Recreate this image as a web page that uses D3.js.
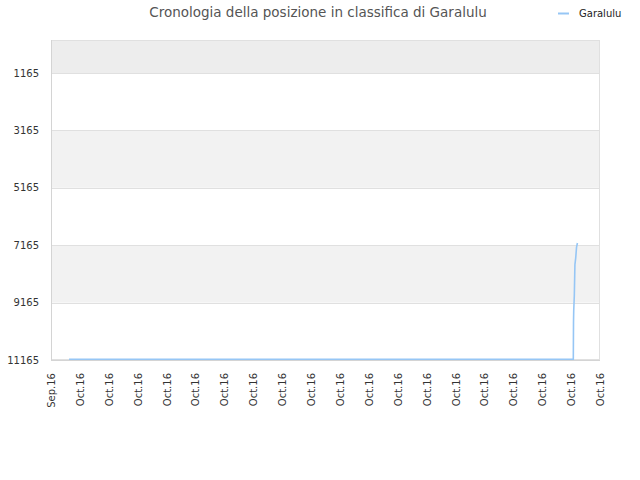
<!DOCTYPE html>
<html>
<head>
<meta charset="utf-8">
<script src="https://cdn.jsdelivr.net/npm/d3@7"></script>
<style>
  body { margin: 0; background: #fff; }
  svg { font-family: "DejaVu Sans", sans-serif; }
</style>
</head>
<body>
<svg id="chart" width="640" height="480"></svg>
<script>
// ranking history of the player (times)
var dates = ["2016-09-30 15:00", "2016-10-18 01:50", "2016-10-18 02:00", "2016-10-18 02:10",
	"2016-10-18 02:40", "2016-10-18 02:50", "2016-10-18 03:00", "2016-10-18 03:10",
	"2016-10-18 03:50", "2016-10-18 04:30", "2016-10-18 05:15"];
var ranks = [11140, 11140, 9830, 9460, 8920, 8560, 8200, 7840, 7610, 7240, 7090];
var yTicks = [1165, 3165, 5165, 7165, 9165, 11165];
var seriesName = "Garalulu";
var title = "Cronologia della posizione in classifica di Garalulu";

var parse = d3.timeParse("%Y-%m-%d %H:%M");
var data = dates.map(function(d, i) { return { date: parse(d), rank: ranks[i] }; });

var svg = d3.select("#chart");
var plotLeft = 51, plotRight = 600, plotTop = 40, plotBottom = 360;

var x = d3.scaleTime()
	.domain([new Date(2016, 8, 30), new Date(2016, 9, 19)])
	.range([plotLeft, plotRight]);
var y = d3.scaleLinear()
	.domain([17, 11165])
	.range([plotTop, plotBottom]);

// alternating background bands
var edges = [17].concat(yTicks);
for (var i = 0; i < edges.length - 1; i++) {
	if (i % 2 == 1) continue;
	svg.append("rect")
		.attr("x", plotLeft)
		.attr("y", y(edges[i]))
		.attr("width", plotRight - plotLeft)
		.attr("height", y(edges[i + 1]) - y(edges[i]))
		.style("fill", i == 0 ? "#ededed" : "#f2f2f2");
}

// horizontal grid lines
svg.selectAll(".grid")
	.data(yTicks)
	.enter().append("line")
	.attr("x1", plotLeft).attr("x2", plotRight)
	.attr("y1", function(d) { return Math.round(y(d)) + 0.5; })
	.attr("y2", function(d) { return Math.round(y(d)) + 0.5; })
	.style("stroke", "#e0e0e0");

// frame
svg.append("rect")
	.attr("x", plotLeft + 0.5).attr("y", plotTop + 0.5)
	.attr("width", plotRight - plotLeft - 1).attr("height", plotBottom - plotTop - 1)
	.style("fill", "none").style("stroke", "#e0e0e0");
svg.append("line")
	.attr("x1", plotLeft + 0.5).attr("x2", plotLeft + 0.5)
	.attr("y1", plotTop).attr("y2", plotBottom)
	.style("stroke", "#d4d4d4");
svg.append("line")
	.attr("x1", plotLeft).attr("x2", plotRight)
	.attr("y1", plotBottom + 0.5).attr("y2", plotBottom + 0.5)
	.style("stroke", "#d4d4d4");

// y axis labels
var yAxis = d3.axisLeft(y).tickValues(yTicks).tickSize(0).tickPadding(12).tickFormat(d3.format("d"));
svg.append("g")
	.attr("transform", "translate(" + plotLeft + ",0)")
	.call(yAxis)
	.call(function(g) { g.select(".domain").remove(); })
	.selectAll("text")
	.style("font-size", "10px")
	.style("fill", "#333")
	.style("font-family", "DejaVu Sans, sans-serif");

// x axis labels, one per day
var fmt = d3.timeFormat("%b.%y");
var xAxis = d3.axisBottom(x).ticks(d3.timeDay.every(1)).tickSize(0).tickFormat(fmt);
svg.append("g")
	.attr("transform", "translate(0," + plotBottom + ")")
	.call(xAxis)
	.call(function(g) { g.select(".domain").remove(); })
	.selectAll("text")
	.attr("transform", "rotate(-90)")
	.attr("x", -13)
	.attr("y", 0)
	.attr("dy", "0.35em")
	.style("text-anchor", "end")
	.style("font-size", "10px")
	.style("fill", "#333")
	.style("font-family", "DejaVu Sans, sans-serif");

// the ranking line
var line = d3.line()
	.x(function(d) { return x(d.date); })
	.y(function(d) { return y(d.rank); });
svg.append("path")
	.datum(data)
	.attr("d", line)
	.style("fill", "none")
	.style("stroke", "#96c6f5")
	.style("stroke-width", 1.6);

// title
svg.append("text")
	.attr("x", 318).attr("y", 17)
	.attr("text-anchor", "middle")
	.style("font-size", "13.5px")
	.style("fill", "#555")
	.text(title);

// legend
svg.append("line")
	.attr("x1", 558).attr("x2", 569)
	.attr("y1", 13.5).attr("y2", 13.5)
	.style("stroke", "#96c6f5")
	.style("stroke-width", 2);
svg.append("text")
	.attr("x", 579).attr("y", 17)
	.style("font-size", "10px")
	.style("fill", "#222")
	.text(seriesName);
</script>
</body>
</html>
